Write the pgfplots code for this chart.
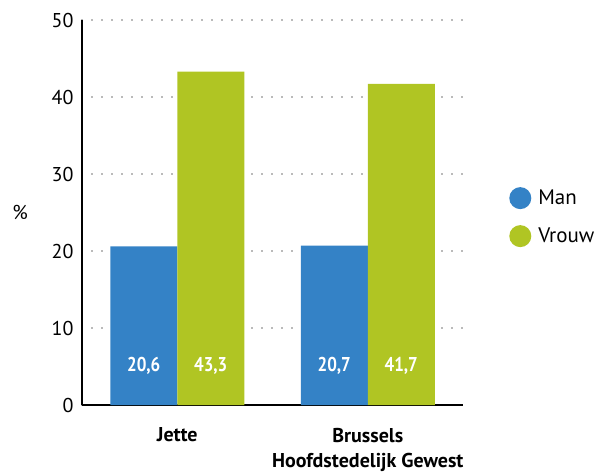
\documentclass[border=0pt]{standalone}
\usepackage{pgfplots}
\pgfplotsset{compat=1.18}
\usepackage{fontspec}
\setmainfont{PT Sans}
\newfontfamily\condfont{PT Sans}[FakeStretch=0.85]
\definecolor{manblue}{RGB}{52,130,198}
\definecolor{vrouwgreen}{RGB}{176,197,35}
\begin{document}
\begin{tikzpicture}
\path[use as bounding box] (-82pt,-69pt) rectangle (514pt,405pt);
\begin{axis}[
  at={(0pt,0pt)}, anchor=south west,
  scale only axis, width=381pt, height=385pt,
  ybar=0pt, bar width=67pt,
  xmin=-0.5, xmax=1.5, ymin=0, ymax=50,
  enlargelimits=false,
  xtick={0,1},
  xticklabels={Jette,{Brussels\\Hoofdstedelijk Gewest}},
  ytick={0,10,...,50},
  axis x line*=bottom, axis y line*=left,
  axis line style={line width=1.3pt, black},
  xtick style={draw=none},
  ytick style={draw=none},
  ymajorgrids,
  grid style={line width=1.6pt, black!55, line cap=round, dash pattern=on 0pt off 10pt, dash phase=0pt},
  /pgf/number format/assume math mode=true,
  tick label style={font=\fontsize{20}{24}\selectfont},
  yticklabel style={xshift=-5pt},
  xticklabel style={font=\fontsize{20}{25}\selectfont\bfseries, align=center, yshift=-15pt},
  ylabel={\%},
  ylabel style={at={(axis description cs:0,0.5)}, rotate=-90, anchor=center, xshift=-62pt, font=\fontsize{20}{24}\selectfont},
  nodes near coords,
  point meta=y,
  visualization depends on={y \as \rawy},
  every node near coord/.append style={shift={(axis direction cs:0,-\rawy)}, anchor=center, yshift=39pt,
    font=\condfont\bfseries\fontsize{20}{24}\selectfont, text=white,
    /pgf/number format/.cd, use comma, fixed, fixed zerofill, precision=1},
  legend style={draw=none, fill=none, inner sep=0pt, at={(1.121,0.488)}, anchor=west,
    font=\fontsize{21}{24}\selectfont, row sep=16pt},
  legend cell align=left,
]
\addplot[fill=manblue, draw=none, legend image code/.code={\fill[manblue] (0pt,0pt) circle (11pt); \path (16pt,0pt);}]
  coordinates {(0,20.6) (1,20.7)};
\addplot[fill=vrouwgreen, draw=none, legend image code/.code={\fill[vrouwgreen] (0pt,0pt) circle (11pt); \path (16pt,0pt);}]
  coordinates {(0,43.3) (1,41.7)};
\legend{Man, Vrouw}
\end{axis}
\end{tikzpicture}
\end{document}
